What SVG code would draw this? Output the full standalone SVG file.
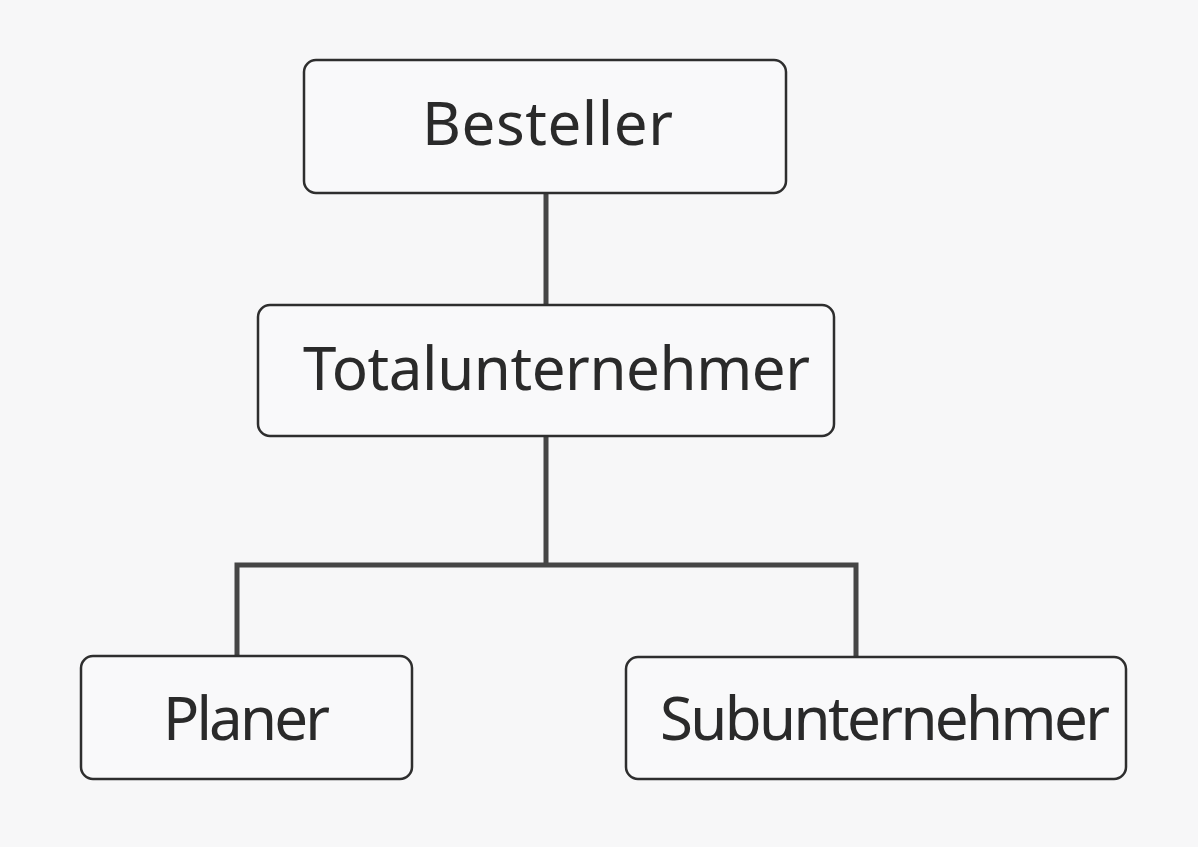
<svg xmlns="http://www.w3.org/2000/svg" width="1198" height="847" viewBox="0 0 1198 847">
  <style>
    .box { fill: #f9f9fa; stroke: #2e2e2e; stroke-width: 2.5; }
    .label { font-family: "Noto Sans", "Open Sans", sans-serif; font-size: 60px; fill: #2a2a2a; text-anchor: middle; }
    .link { fill: none; stroke: #454545; stroke-width: 5; stroke-linejoin: miter; }
  </style>
  <rect width="1198" height="847" fill="#f7f7f8"/>

  <g id="connectors">
    <line class="link" x1="546" y1="193" x2="546" y2="305"/>
    <path class="link" d="M546 436 V565 M237 656 V565 H856 V657"/>
  </g>

  <g id="besteller">
    <rect class="box" x="304" y="60" width="482" height="133" rx="12"/>
    <text class="label" x="547.5" y="145" font-size="62" textLength="251" lengthAdjust="spacing">Besteller</text>
  </g>

  <g id="totalunternehmer">
    <rect class="box" x="258" y="305" width="576" height="131" rx="12"/>
    <text class="label" x="556.5" y="390" textLength="507" lengthAdjust="spacing">Totalunternehmer</text>
  </g>

  <g id="planer">
    <rect class="box" x="81" y="656" width="331" height="123" rx="12"/>
    <text class="label" x="246.5" y="740" textLength="167" lengthAdjust="spacing">Planer</text>
  </g>

  <g id="subunternehmer">
    <rect class="box" x="626" y="657" width="500" height="122" rx="12"/>
    <text class="label" x="885" y="740" font-size="57" textLength="450" lengthAdjust="spacing">Subunternehmer</text>
  </g>
</svg>
